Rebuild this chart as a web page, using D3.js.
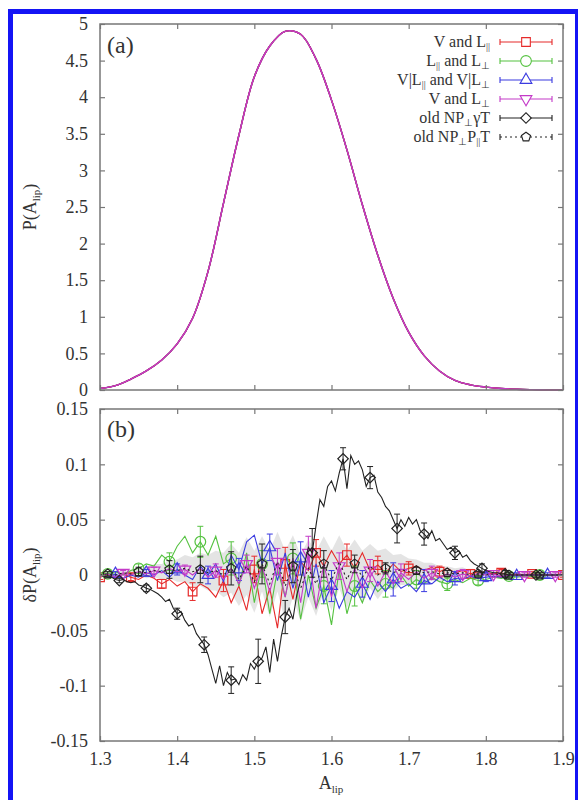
<!DOCTYPE html>
<html>
<head>
<meta charset="utf-8">
<script src="https://cdn.jsdelivr.net/npm/d3@7"></script>
<style>
  body { margin: 0; background: #fff; }
  text { font-family: "Liberation Serif", "Times New Roman", serif; fill: #333; }
</style>
</head>
<body>
<div id="chart"></div>
<script>
// ---- data ----
// panel (a): P(A_lip), sampled every 0.02 from 1.30 to 1.90
var pAlip = [0.02, 0.06, 0.15, 0.26, 0.41, 0.63, 0.98, 1.62, 2.55, 3.48, 4.28, 4.70, 4.90, 4.86, 4.52,
             3.96, 3.28, 2.53, 1.84, 1.25, 0.79, 0.47, 0.26, 0.13, 0.07, 0.04, 0.02, 0.01, 0.005, 0.002, 0]

// panel (b): deltaP, sampled every 0.01 from 1.30 to 1.90
var dRed = [-0.002, 0.000, -0.003, 0.001, -0.002, -0.004, 0.000, -0.003, -0.008, -0.004,
  -0.010, -0.006, -0.015, -0.008, -0.012, -0.020, -0.005, -0.025, -0.010, -0.032,
  0.005, -0.035, -0.012, -0.048, 0.010, -0.022, 0.012, 0.004, 0.020, 0.008,
  0.022, 0.010, 0.018, 0.006, 0.020, 0.004, 0.009, 0.002, 0.010, 0.003,
  0.006, 0.008, 0.004, 0.007, 0.003, 0.006, 0.002, 0.004, 0.001, 0.003,
  0.002, 0.001, 0.002, 0.000, 0.001, 0.000, 0.001, 0.000, 0.000, 0.000, 0.000]
var dGreen = [0.002, 0.001, 0.003, 0.000, 0.004, 0.006, 0.010, 0.008, 0.018, 0.012,
  0.026, 0.035, 0.020, 0.030, 0.018, 0.035, 0.010, 0.015, -0.010, 0.020,
  -0.025, 0.010, -0.035, 0.005, -0.020, 0.015, -0.040, 0.000, -0.030, -0.010,
  -0.045, 0.005, -0.035, -0.010, -0.025, -0.005, -0.015, -0.008, -0.012, 0.000,
  -0.010, -0.004, -0.008, -0.002, -0.006, -0.008, -0.004, -0.007, -0.003, -0.005,
  -0.004, -0.002, -0.003, -0.001, -0.002, -0.001, -0.001, 0.000, 0.000, 0.000, 0.000]
var dBlue = [0.000, -0.002, 0.001, -0.003, 0.000, -0.002, 0.002, 0.000, 0.004, -0.002,
  0.005, 0.000, -0.004, 0.008, 0.000, 0.010, -0.006, 0.018, 0.005, 0.030,
  0.036, 0.010, 0.025, -0.005, 0.020, -0.012, 0.015, -0.020, 0.010, -0.025,
  -0.010, -0.030, -0.015, -0.020, -0.008, -0.022, -0.006, -0.015, -0.004, -0.012,
  -0.008, -0.015, -0.005, -0.008, -0.002, -0.006, -0.003, -0.004, -0.001, -0.003,
  -0.002, -0.001, -0.002, 0.000, -0.001, 0.000, 0.000, 0.000, 0.000, 0.000, 0.000]
var dMagenta = [-0.001, 0.001, -0.002, 0.002, 0.000, 0.003, 0.001, 0.004, 0.002, 0.006,
  0.003, 0.005, 0.000, 0.006, -0.002, 0.004, -0.004, 0.006, -0.008, 0.010,
  -0.012, 0.008, -0.015, 0.012, -0.020, 0.015, -0.025, 0.020, -0.030, 0.010,
  -0.020, 0.008, -0.015, 0.006, -0.012, 0.004, -0.010, 0.003, -0.008, 0.002,
  -0.004, 0.003, -0.003, 0.002, -0.002, 0.001, -0.002, 0.001, -0.001, 0.001,
  0.000, 0.001, -0.001, 0.000, 0.000, 0.000, 0.000, 0.000, 0.000, 0.000, 0.000]
var dDotted = [0.000, 0.001, 0.000, 0.002, 0.001, 0.003, 0.002, 0.004, 0.003, 0.005,
  0.004, 0.006, 0.003, 0.005, 0.002, 0.004, 0.000, 0.006, -0.004, 0.008,
  -0.006, 0.010, -0.008, 0.012, -0.010, 0.008, -0.012, 0.006, -0.008, 0.010,
  -0.005, 0.012, -0.004, 0.010, -0.002, 0.008, 0.000, 0.006, 0.002, 0.005,
  0.003, 0.004, 0.002, 0.003, 0.001, 0.002, 0.001, 0.002, 0.000, 0.001,
  0.000, 0.001, 0.000, 0.000, 0.000, 0.000, 0.000, 0.000, 0.000, 0.000, 0.000]
// grey band around the dotted series (half width)
var dBand = [0.002, 0.002, 0.003, 0.003, 0.004, 0.004, 0.005, 0.006, 0.007, 0.008,
  0.010, 0.012, 0.013, 0.015, 0.016, 0.018, 0.020, 0.022, 0.024, 0.026,
  0.028, 0.025, 0.030, 0.027, 0.032, 0.028, 0.030, 0.026, 0.029, 0.025,
  0.027, 0.024, 0.026, 0.022, 0.024, 0.020, 0.022, 0.018, 0.016, 0.014,
  0.012, 0.010, 0.009, 0.008, 0.007, 0.006, 0.005, 0.005, 0.004, 0.004,
  0.003, 0.003, 0.003, 0.002, 0.002, 0.002, 0.002, 0.002, 0.002, 0.002, 0.002]
// old NP_perp gamma T, sampled every 0.005 from 1.300 to 1.900
var dBlack = [0.000, -0.001, -0.002, -0.002, -0.004, -0.005, -0.004, -0.006, -0.007, -0.006,
  -0.009, -0.010, -0.012, -0.013, -0.015, -0.017, -0.020, -0.024, -0.022, -0.030,
  -0.035, -0.033, -0.041, -0.046, -0.044, -0.053, -0.058, -0.063, -0.072, -0.085,
  -0.098, -0.082, -0.100, -0.088, -0.095, -0.094, -0.099, -0.090, -0.095, -0.080,
  -0.085, -0.078, -0.075, -0.065, -0.088, -0.058, -0.078, -0.055, -0.038, -0.030,
  -0.040, -0.018, -0.005, 0.010, 0.025, 0.020, 0.045, 0.068, 0.062, 0.080,
  0.085, 0.076, 0.092, 0.105, 0.078, 0.108, 0.100, 0.103, 0.095, 0.080,
  0.088, 0.090, 0.075, 0.070, 0.062, 0.058, 0.050, 0.042, 0.050, 0.044,
  0.052, 0.046, 0.050, 0.040, 0.037, 0.033, 0.040, 0.031, 0.033, 0.028,
  0.023, 0.025, 0.020, 0.022, 0.016, 0.018, 0.013, 0.010, 0.008, 0.006,
  0.004, 0.003, 0.002, 0.002, 0.001, 0.001, 0.000, 0.000, 0.000, 0.000,
  0.000, 0.000, 0.000, 0.000, 0.000, 0.000, 0.000, 0.000, 0.000, 0.000, 0.000]
// sample indices of dBlack that carry a diamond
var blackMarks = [5, 12, 20, 27, 34, 41, 48, 55, 63, 70, 77, 84, 92, 99, 105, 113]

// error bars at the marked points
var eRed = [0.002, 0.003, 0.004, 0.008, 0.010, 0.012, 0.015, 0.012, 0.010, 0.008, 0.006, 0.005, 0.004, 0.003, 0.002, 0.002]
var eGreen = [0.002, 0.004, 0.008, 0.014, 0.015, 0.012, 0.014, 0.016, 0.018, 0.012, 0.008, 0.006, 0.004, 0.003, 0.002]
var eBlue = [0.002, 0.003, 0.005, 0.008, 0.010, 0.012, 0.015, 0.014, 0.012, 0.015, 0.010, 0.006, 0.004, 0.003, 0.002]
var eMagenta = [0.002, 0.003, 0.004, 0.006, 0.008, 0.012, 0.015, 0.012, 0.010, 0.008, 0.006, 0.004, 0.003, 0.002, 0.002]
var eDotted = [0.002, 0.004, 0.008, 0.012, 0.015, 0.018, 0.015, 0.012, 0.008, 0.005, 0.003, 0.002, 0.002, 0.002, 0.002]
var eBlack = [0.002, 0.003, 0.005, 0.007, 0.012, 0.020, 0.015, 0.022, 0.010, 0.010, 0.013, 0.010, 0.006, 0.004, 0.003, 0.002]

var xTicks = [1.3, 1.4, 1.5, 1.6, 1.7, 1.8, 1.9]
var topTicks = [0, 0.5, 1, 1.5, 2, 2.5, 3, 3.5, 4, 4.5, 5]
var botTicks = [-0.15, -0.1, -0.05, 0, 0.05, 0.1, 0.15]

// sample grids
var grid02 = d3.range(pAlip.length).map(function(i){ return 1.3 + i * 0.02 })
var grid01 = d3.range(dRed.length).map(function(i){ return 1.3 + i * 0.01 })
var grid005 = d3.range(dBlack.length).map(function(i){ return 1.3 + i * 0.005 })

// ---- drawing ----
var svg = d3.select("#chart")
  .append("svg")
    .attr("width", 578)
    .attr("height", 800)

svg.append("rect")
    .attr("x", 10.5).attr("y", 11.5)
    .attr("width", 567).attr("height", 800)
    .attr("fill", "none")
    .attr("stroke", "#1414f5")
    .attr("stroke-width", 5)

var x = d3.scaleLinear().domain([1.3, 1.9]).range([100, 563])
var yTop = d3.scaleLinear().domain([0, 5]).range([390, 24])
var yBot = d3.scaleLinear().domain([-0.15, 0.15]).range([741, 409])

var axisColor = "#777"
var fmt = function(d){ return String(+d.toFixed(2)) }

function frame(y, yTicks, showX) {
  var g = svg.append("g")
  var y0 = y.range()[0], y1 = y.range()[1]
  g.append("g").attr("transform", "translate(100,0)")
    .call(d3.axisLeft(y).tickValues(yTicks).tickSize(-5).tickPadding(12).tickFormat(fmt))
  g.append("g").attr("transform", "translate(563,0)")
    .call(d3.axisRight(y).tickValues(yTicks).tickSize(-5).tickFormat(""))
  g.append("g").attr("transform", "translate(0," + y1 + ")")
    .call(d3.axisTop(x).tickValues(xTicks).tickSize(-5).tickFormat(""))
  g.append("g").attr("transform", "translate(0," + y0 + ")")
    .call(d3.axisBottom(x).tickValues(xTicks).tickSize(-5).tickPadding(11)
      .tickFormat(showX ? fmt : ""))
  g.selectAll(".domain").remove()
  g.selectAll(".tick line").attr("stroke", axisColor).attr("stroke-width", 1.2)
  g.selectAll(".tick text").style("font-size", "18px").attr("fill", "#333")
    .style("font-family", '"Liberation Serif", serif')
  g.append("rect")
    .attr("x", 100).attr("y", y1)
    .attr("width", 463).attr("height", y0 - y1)
    .attr("fill", "none").attr("stroke", axisColor).attr("stroke-width", 1.5)
}

// pentagon symbol for the dotted series
var symbolPentagon = {
  draw: function(ctx, size) {
    var r = Math.sqrt(size / 2.38)
    for (var i = 0; i < 5; i++) {
      var a = -Math.PI / 2 + i * 2 * Math.PI / 5
      if (i === 0) ctx.moveTo(r * Math.cos(a), r * Math.sin(a))
      else ctx.lineTo(r * Math.cos(a), r * Math.sin(a))
    }
    ctx.closePath()
  }
}

var series = [
  { name: [["V and L"], ["||", 1]], color: "#e62a2a", vals: dRed, grid: grid01, err: eRed, start: 0, every: 4,
    sym: d3.symbolSquare, size: 75, rot: 0 },
  { name: [["L"], ["||", 1], [" and L"], ["\u22A5", 1]], color: "#55c240", vals: dGreen, grid: grid01, err: eGreen, start: 1, every: 4,
    sym: d3.symbolCircle, size: 90, rot: 0 },
  { name: [["V|L"], ["||", 1], [" and V|L"], ["\u22A5", 1]], color: "#3b3be0", vals: dBlue, grid: grid01, err: eBlue, start: 2, every: 4,
    sym: d3.symbolTriangle, size: 60, rot: 0 },
  { name: [["V and L"], ["\u22A5", 1]], color: "#c43ac8", vals: dMagenta, grid: grid01, err: eMagenta, start: 3, every: 4,
    sym: d3.symbolTriangle, size: 60, rot: 180 },
  { name: [["old NP"], ["\u22A5", 1], ["\u03B3T"]], color: "#222", vals: dBlack, grid: grid005, err: eBlack, marks: blackMarks,
    sym: d3.symbolSquare, size: 55, rot: 45 },
  { name: [["old NP"], ["\u22A5", 1], ["P"], ["||", 1], ["T"]], color: "#222", vals: dDotted, grid: grid01, err: eDotted, start: 1, every: 4,
    sym: symbolPentagon, size: 55, rot: 0, dash: "2,3" }
]

// ---- panel (a) ----
var lineTop = d3.line()
  .x(function(d, i){ return x(grid02[i]) })
  .y(function(d){ return yTop(d) })
  .curve(d3.curveCatmullRom)

var topOrder = [1, 4, 2, 0, 3]
topOrder.forEach(function(k){
  svg.append("path")
    .datum(pAlip)
    .attr("d", lineTop)
    .attr("fill", "none")
    .attr("stroke", series[k].color)
    .attr("stroke-width", k === 4 ? 1 : 1.4)
    .attr("stroke-opacity", k === 4 ? 0.6 : 1)
})

frame(yTop, topTicks, false)

// ---- panel (b) ----
svg.append("clipPath").attr("id", "clipB")
  .append("rect").attr("x", 100).attr("y", 409).attr("width", 463).attr("height", 332)

var gB = svg.append("g").attr("clip-path", "url(#clipB)")

gB.append("path")
  .datum(dDotted)
  .attr("d", d3.area()
    .x(function(d, i){ return x(grid01[i]) })
    .y0(function(d, i){ return yBot(d - dBand[i]) })
    .y1(function(d, i){ return yBot(d + dBand[i]) }))
  .attr("fill", "#c4c4c4")
  .attr("fill-opacity", 0.45)

function drawSeries(s) {
  var line = d3.line()
    .x(function(d, i){ return x(s.grid[i]) })
    .y(function(d){ return yBot(d) })
  gB.append("path")
    .datum(s.vals)
    .attr("d", line)
    .attr("fill", "none")
    .attr("stroke", s.color)
    .attr("stroke-width", 1.1)
    .attr("stroke-dasharray", s.dash || null)

  var pts = s.err.map(function(e, j){
    var i = s.marks ? s.marks[j] : s.start + j * s.every
    return { x: s.grid[i], y: s.vals[i], e: e }
  }).filter(function(p){ return p.x !== undefined })

  var eg = gB.append("g").attr("stroke", s.color).attr("stroke-width", 1).attr("fill", "none")
  eg.selectAll(".bar").data(pts).enter().append("path")
    .attr("d", function(p){
      var cx = x(p.x), lo = yBot(p.y - p.e), hi = yBot(p.y + p.e)
      return "M" + cx + "," + lo + "V" + hi +
             "M" + (cx - 3) + "," + lo + "H" + (cx + 3) +
             "M" + (cx - 3) + "," + hi + "H" + (cx + 3)
    })
  eg.selectAll(".mk").data(pts).enter().append("path")
    .attr("transform", function(p){ return "translate(" + x(p.x) + "," + yBot(p.y) + ") rotate(" + s.rot + ")" })
    .attr("d", d3.symbol().type(s.sym).size(s.size))
    .attr("stroke-width", 1.2)
}

series.forEach(function(s, k){ if (k !== 4) drawSeries(s) })
drawSeries(series[4])

frame(yBot, botTicks, true)

// ---- panel letters ----
svg.append("text").attr("x", 107).attr("y", 53).text("(a)").style("font-size", "24px").attr("fill", "#222")
svg.append("text").attr("x", 107).attr("y", 437).text("(b)").style("font-size", "24px").attr("fill", "#222")

// ---- axis titles ----
function richText(g, parts, size, drop) {
  var shift = 0
  parts.forEach(function(p){
    var sub = p[1] === 1
    var dy = sub ? drop - shift : -shift
    shift = sub ? drop : 0
    g.append("tspan")
      .attr("dy", dy)
      .style("font-size", sub ? Math.round(size * 0.6) + "px" : size + "px")
      .text(p[0])
  })
}

var t1 = svg.append("text").attr("transform", "translate(36,207) rotate(-90)").attr("text-anchor", "middle")
richText(t1, [["P(A"], ["lip", 1], [")"]], 18, 4)
var t2 = svg.append("text").attr("transform", "translate(36,575) rotate(-90)").attr("text-anchor", "middle")
richText(t2, [["\u03B4P(A"], ["lip", 1], [")"]], 18, 4)
var t3 = svg.append("text").attr("x", 331).attr("y", 789).attr("text-anchor", "middle")
richText(t3, [["A"], ["lip", 1]], 18, 4)

// ---- legend ----
var legY = [42, 61, 80, 99, 118, 137]
series.forEach(function(s, k){
  var y = legY[k]
  var t = svg.append("text").attr("x", 490).attr("y", y + 5).attr("text-anchor", "end")
  richText(t, s.name, 16, 3)
  var lg = svg.append("g").attr("stroke", s.color).attr("fill", "none").attr("stroke-width", 1.1)
  lg.append("line").attr("x1", 500).attr("x2", 552).attr("y1", y).attr("y2", y)
    .attr("stroke-dasharray", s.dash || null)
  lg.append("path").attr("d", "M500," + (y - 3) + "V" + (y + 3) + "M552," + (y - 3) + "V" + (y + 3))
  lg.append("path")
    .attr("transform", "translate(526," + y + ") rotate(" + s.rot + ")")
    .attr("d", d3.symbol().type(s.sym).size(s.size))
    .attr("fill", "#fff")
})
</script>
</body>
</html>
